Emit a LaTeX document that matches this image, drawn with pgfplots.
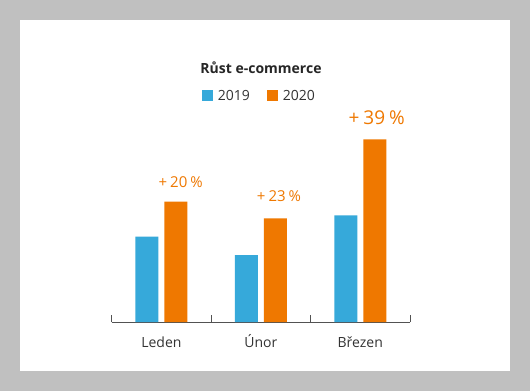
\documentclass[border=0pt]{standalone}
\usepackage{pgfplots}
\pgfplotsset{compat=1.18}
\usepackage{fontspec}
\setmainfont{Open Sans}
\definecolor{bgray}{HTML}{C0C0C0}
\definecolor{cblue}{HTML}{36A9DA}
\definecolor{corange}{HTML}{EF7800}
\definecolor{txt}{HTML}{333333}
\begin{document}
\begin{tikzpicture}[x=1pt,y=1pt]
\useasboundingbox (0,0) rectangle (530,391);
\fill[bgray] (0,0) rectangle (530,391);
\fill[white] (20,20) rectangle (510,371);
\begin{axis}[
  at={(111.7pt,69pt)}, anchor=south west,
  scale only axis, width=298.3pt, height=200pt,
  xmin=-0.5, xmax=2.5, ymin=0, ymax=200,
  axis x line=bottom, axis y line=none,
  x axis line style={draw=txt!85, line width=0.9pt, -},
  ybar=6pt, bar width=23pt,
  xtick={-0.5,0.5,1.5,2.5}, xticklabels={},
  major tick length=7pt, tick align=inside,
  tick style={draw=txt!85, line width=0.9pt},
  extra x ticks={0,1,2},
  extra x tick labels={Leden,Únor,Březen},
  extra x tick style={major tick length=0pt, tick style={draw=none}},
  ticklabel style={font=\fontsize{14}{16}\selectfont, text=txt},
  xticklabel style={anchor=base, yshift=-25pt},
  legend columns=2,
  legend style={at={(0.5,1.13)}, anchor=center, draw=none, fill=none,
    font=\fontsize{14}{16}\selectfont, text=txt,
    nodes={inner xsep=5pt},
    /tikz/every even column/.append style={column sep=12pt}},
  legend image code/.code={\fill[#1,draw=none] (0pt,-5.5pt) rectangle (11pt,5.5pt);},
  clip=false,
]
\addplot[fill=cblue, draw=none] coordinates {(0,85.3) (1,67) (2,106.7)};
\addplot[fill=corange, draw=none] coordinates {(0,120.3) (1,103.7) (2,182.7)};
\legend{2019,2020}
\node[text=corange, font=\fontsize{15}{17}\selectfont] at (axis cs:0.1935,140.3) {+\hspace{3pt}20\hspace{3pt}\%};
\node[text=corange, font=\fontsize{15}{17}\selectfont] at (axis cs:1.1825,125.7) {+\hspace{3pt}23\hspace{3pt}\%};
\node[text=corange, font=\fontsize{19}{21}\selectfont] at (axis cs:2.1655,204) {+\hspace{4pt}39\hspace{4pt}\%};
\end{axis}
\node[font=\bfseries\fontsize{14}{16}\selectfont, text=black!85] at (261,323) {Růst e-commerce};
\end{tikzpicture}
\end{document}
